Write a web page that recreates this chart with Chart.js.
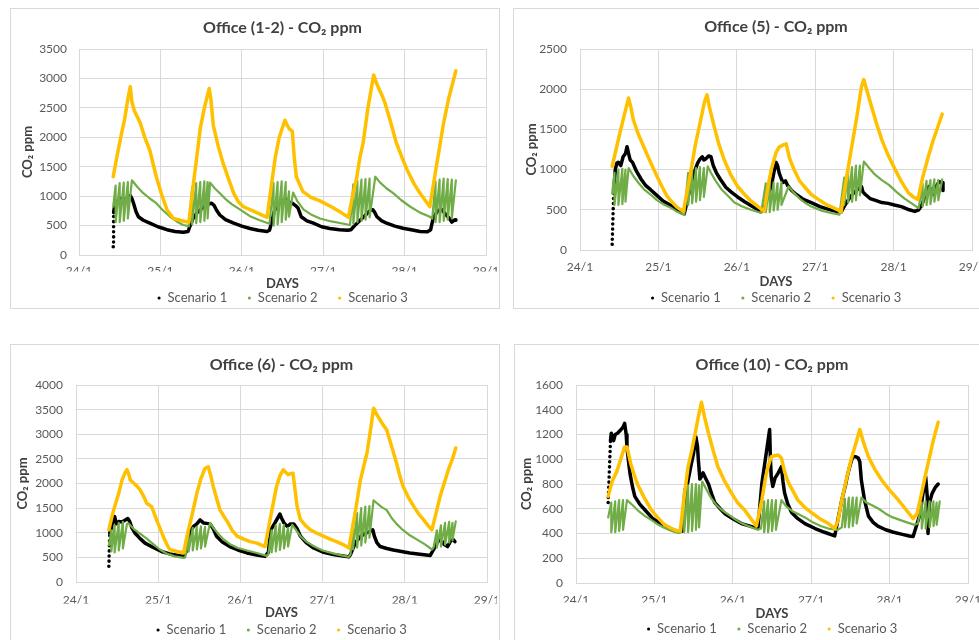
<!DOCTYPE html>
<html><head><meta charset="utf-8">
<script src="https://cdn.jsdelivr.net/npm/chart.js@4.4.1/dist/chart.umd.min.js"></script>
<style>
html,body{margin:0;padding:0;background:#fff;width:979px;height:640px;overflow:hidden;position:relative;}
.box{position:absolute;border:1px solid #d9d9d9;box-sizing:border-box;}
canvas{position:absolute;}
</style></head><body>
<div class="box" style="left:10px;top:8px;width:490px;height:301px"></div>
<div class="box" style="left:513px;top:8px;width:490px;height:301px"></div>
<div class="box" style="left:10px;top:344px;width:490px;height:320px"></div>
<div class="box" style="left:514px;top:344px;width:490px;height:320px"></div>
<canvas id="c1" width="487" height="300" style="left:10px;top:8px"></canvas>
<canvas id="c2" width="487" height="300" style="left:513px;top:8px"></canvas>
<canvas id="c3" width="487" height="300" style="left:10px;top:344px"></canvas>
<canvas id="c4" width="487" height="300" style="left:514px;top:344px"></canvas>
<script>
const dayTicks = ['24/1','25/1','26/1','27/1','28/1','29/1'];
const seriesNames = ['Scenario 1','Scenario 2','Scenario 3'];
const chartTitles = ['Office (1-2) - CO₂ ppm','Office (5) - CO₂ ppm','Office (6) - CO₂ ppm','Office (10) - CO₂ ppm'];
const yAxisTitle = 'CO₂ ppm';
const xAxisTitle = 'DAYS';
const yMaxes = [3500, 2500, 4000, 1600];
const ySteps = [500, 500, 500, 200];

// Office (1-2)
const o12s1 = [[24.42,140],[24.425,720],[24.44,850],[24.48,930],[24.52,960],[24.56,940],[24.60,980],[24.63,1010],[24.65,960],[24.67,880],[24.70,740],[24.73,650],[24.79,590],[24.87,540],[24.97,480],[25.08,430],[25.18,400],[25.28,385],[25.34,400],
[25.36,480],[25.40,620],[25.45,720],[25.50,780],[25.55,830],[25.60,870],[25.63,880],[25.66,840],[25.69,760],[25.73,680],[25.80,600],[25.90,540],[26.00,490],[26.10,450],[26.20,420],[26.31,400],[26.34,420],
[26.36,520],[26.40,750],[26.45,860],[26.50,920],[26.54,950],[26.58,900],[26.62,880],[26.66,840],[26.69,800],[26.73,650],[26.80,580],[26.88,540],[26.98,480],[27.08,450],[27.20,430],[27.30,420],[27.34,430],
[27.40,520],[27.46,600],[27.52,680],[27.58,760],[27.61,770],[27.63,730],[27.66,650],[27.72,580],[27.78,540],[27.88,490],[27.98,455],[28.08,430],[28.19,400],[28.28,395],[28.32,430],
[28.35,620],[28.40,740],[28.45,780],[28.50,700],[28.55,620],[28.58,560],[28.62,600],[28.63,590]];
const o12s2 = [[24.42,820],[24.45,1180],[24.45,560],[24.50,1220],[24.50,560],[24.55,1230],[24.55,580],[24.60,1240],[24.60,620],[24.65,1270],[24.72,1150],[24.79,1050],[24.87,960],[24.95,880],[25.03,760],[25.12,650],[25.20,570],[25.28,510],[25.35,490],
[25.39,1150],[25.39,520],[25.44,1220],[25.44,540],[25.49,1240],[25.49,560],[25.54,1250],[25.54,580],[25.58,1240],[25.58,620],[25.61,1230],[25.67,1130],[25.73,1050],[25.80,950],[25.88,860],[25.98,770],[26.10,660],[26.22,590],[26.34,530],
[26.39,1220],[26.39,500],[26.44,1240],[26.44,520],[26.49,1250],[26.49,560],[26.54,1240],[26.54,600],[26.58,1080],[26.58,650],[26.63,1060],[26.68,920],[26.76,770],[26.85,690],[26.96,620],[27.10,570],[27.22,540],[27.33,510],
[27.37,1200],[27.37,530],[27.42,1260],[27.42,560],[27.47,1280],[27.47,580],[27.52,1290],[27.52,600],[27.57,1300],[27.57,640],[27.64,1330],[27.70,1230],[27.78,1130],[27.86,1050],[27.96,930],[28.07,820],[28.19,720],[28.31,650],[28.34,620],
[28.38,1250],[28.38,560],[28.43,1280],[28.43,560],[28.48,1300],[28.48,580],[28.53,1290],[28.53,600],[28.58,1280],[28.58,620],[28.63,1270]];
const o12s3 = [[24.42,1330],[24.47,1700],[24.52,2050],[24.56,2300],[24.60,2650],[24.63,2860],[24.65,2600],[24.68,2450],[24.75,2250],[24.81,1990],[24.87,1780],[24.91,1550],[24.95,1330],[25.01,1050],[25.08,770],[25.16,620],[25.30,570],[25.35,560],
[25.40,1150],[25.45,1700],[25.49,2150],[25.54,2500],[25.60,2830],[25.62,2650],[25.65,2200],[25.71,1850],[25.77,1560],[25.84,1280],[25.90,1050],[25.96,900],[26.02,820],[26.15,740],[26.31,640],
[26.36,1150],[26.41,1650],[26.46,2000],[26.53,2290],[26.56,2200],[26.58,2150],[26.62,2100],[26.645,1650],[26.67,1330],[26.75,1080],[26.85,980],[26.96,920],[27.10,820],[27.22,720],[27.31,640],
[27.36,1000],[27.41,1300],[27.45,1650],[27.49,1900],[27.55,2500],[27.62,3060],[27.66,2900],[27.72,2720],[27.76,2580],[27.82,2300],[27.90,1900],[27.97,1650],[28.03,1450],[28.12,1200],[28.19,1050],[28.31,820],
[28.36,1250],[28.42,1750],[28.48,2250],[28.54,2650],[28.63,3130]];

// Office (5)
const o5s1 = [[24.41,70],[24.43,720],[24.45,1000],[24.47,1080],[24.49,1090],[24.52,1050],[24.55,1160],[24.58,1200],[24.60,1285],[24.62,1200],[24.64,1120],[24.67,1090],[24.72,980],[24.78,880],[24.84,800],[24.90,750],[24.98,680],[25.06,610],[25.15,560],[25.23,500],[25.30,460],
[25.33,450],[25.40,750],[25.44,920],[25.47,1000],[25.50,1080],[25.53,1130],[25.56,1160],[25.58,1120],[25.60,1130],[25.64,1170],[25.67,1160],[25.70,1050],[25.74,960],[25.79,880],[25.86,780],[25.93,720],[26.01,660],[26.10,600],[26.20,540],[26.31,480],
[26.35,520],[26.40,700],[26.44,790],[26.47,950],[26.50,1090],[26.52,1050],[26.54,960],[26.57,880],[26.59,840],[26.62,860],[26.65,800],[26.70,740],[26.76,690],[26.85,630],[26.95,590],[27.06,540],[27.17,505],[27.29,475],
[27.33,470],[27.38,560],[27.44,650],[27.50,720],[27.55,760],[27.59,790],[27.61,720],[27.64,690],[27.70,640],[27.76,620],[27.85,590],[27.93,580],[28.01,560],[28.10,540],[28.20,500],[28.27,480],[28.32,500],
[28.36,560],[28.41,700],[28.45,790],[28.48,740],[28.51,690],[28.55,800],[28.58,850],[28.62,840],[28.63,740]];
const o5s2 = [[24.41,700],[24.44,960],[24.44,560],[24.49,1000],[24.49,560],[24.54,1010],[24.54,570],[24.58,1000],[24.58,600],[24.62,1020],[24.68,920],[24.75,830],[24.82,750],[24.90,690],[24.98,620],[25.06,570],[25.15,530],[25.23,480],[25.30,450],[25.33,440],
[25.38,960],[25.38,560],[25.43,1000],[25.43,580],[25.48,1020],[25.48,600],[25.53,1030],[25.53,620],[25.58,1020],[25.58,660],[25.63,1040],[25.67,960],[25.73,860],[25.80,760],[25.88,680],[25.97,590],[26.07,540],[26.18,500],[26.31,460],
[26.37,830],[26.37,470],[26.42,840],[26.42,470],[26.47,840],[26.47,490],[26.52,830],[26.52,500],[26.57,840],[26.57,560],[26.66,790],[26.72,720],[26.80,640],[26.88,580],[26.95,540],[27.08,490],[27.20,460],[27.31,440],
[27.37,900],[27.37,560],[27.42,980],[27.42,590],[27.47,1030],[27.47,600],[27.52,1050],[27.52,620],[27.57,1050],[27.57,680],[27.62,1100],[27.68,1030],[27.76,940],[27.85,870],[27.94,810],[28.04,720],[28.14,640],[28.23,580],[28.32,520],
[28.37,820],[28.37,540],[28.42,860],[28.42,560],[28.47,870],[28.47,570],[28.52,880],[28.52,600],[28.57,870],[28.57,620],[28.62,880]];
const o5s3 = [[24.41,1040],[24.46,1250],[24.51,1460],[24.57,1700],[24.62,1890],[24.65,1770],[24.68,1620],[24.74,1450],[24.81,1290],[24.90,1090],[24.98,920],[25.05,780],[25.11,670],[25.18,590],[25.24,530],[25.32,480],
[25.36,700],[25.41,960],[25.47,1300],[25.54,1620],[25.59,1850],[25.62,1930],[25.65,1780],[25.71,1540],[25.77,1320],[25.84,1120],[25.92,940],[26.01,790],[26.10,690],[26.18,610],[26.27,540],[26.35,480],
[26.40,800],[26.44,1000],[26.50,1210],[26.54,1280],[26.60,1310],[26.63,1320],[26.67,1150],[26.73,1000],[26.80,860],[26.86,790],[26.95,690],[27.04,630],[27.15,560],[27.29,500],
[27.33,470],[27.40,900],[27.46,1250],[27.53,1650],[27.59,2030],[27.62,2120],[27.66,1980],[27.72,1780],[27.78,1580],[27.85,1370],[27.93,1180],[28.02,1000],[28.10,850],[28.19,710],[28.25,660],[28.31,630],
[28.37,900],[28.44,1150],[28.50,1350],[28.56,1520],[28.62,1690]];

// Office (6)
const o6s1 = [[24.40,320],[24.41,1000],[24.43,1100],[24.45,1250],[24.47,1330],[24.49,1180],[24.52,1230],[24.56,1220],[24.60,1260],[24.63,1290],[24.65,1240],[24.68,1100],[24.72,990],[24.78,880],[24.84,790],[24.94,700],[25.04,620],[25.14,570],[25.24,540],[25.31,520],
[25.35,650],[25.38,990],[25.43,1130],[25.47,1180],[25.51,1260],[25.55,1200],[25.59,1190],[25.63,1180],[25.67,1080],[25.71,930],[25.78,810],[25.87,720],[25.97,650],[26.08,590],[26.20,550],[26.30,520],
[26.34,600],[26.37,1060],[26.42,1200],[26.48,1380],[26.50,1300],[26.53,1200],[26.57,1130],[26.61,1180],[26.65,1180],[26.69,1080],[26.73,930],[26.80,800],[26.89,690],[27.00,610],[27.13,560],[27.25,530],[27.32,510],
[27.34,560],[27.40,800],[27.46,920],[27.52,990],[27.58,1030],[27.61,1060],[27.63,930],[27.66,800],[27.70,720],[27.78,680],[27.86,650],[27.96,620],[28.06,590],[28.16,570],[28.26,550],[28.31,540],
[28.35,660],[28.40,820],[28.44,860],[28.48,760],[28.52,720],[28.56,840],[28.59,860],[28.61,820]];
const o6s2 = [[24.40,750],[24.43,1050],[24.43,620],[24.47,1150],[24.47,600],[24.52,1200],[24.52,640],[24.57,1220],[24.57,680],[24.62,1180],[24.64,1190],[24.70,1080],[24.78,980],[24.86,880],[24.94,770],[25.02,660],[25.10,580],[25.20,520],[25.31,490],
[25.33,500],[25.37,1000],[25.37,620],[25.42,1100],[25.42,640],[25.47,1120],[25.47,660],[25.52,1130],[25.52,680],[25.57,1120],[25.57,720],[25.63,1200],[25.67,1100],[25.73,980],[25.80,860],[25.88,760],[25.97,690],[26.08,640],[26.20,590],[26.32,530],
[26.34,560],[26.38,1050],[26.38,600],[26.43,1150],[26.43,620],[26.48,1180],[26.48,650],[26.53,1160],[26.53,680],[26.58,1100],[26.58,720],[26.63,1160],[26.68,1050],[26.73,930],[26.81,810],[26.90,720],[27.00,640],[27.13,580],[27.23,540],[27.32,510],
[27.34,560],[27.37,1200],[27.37,660],[27.42,1400],[27.42,700],[27.47,1500],[27.47,740],[27.52,1530],[27.52,800],[27.57,1540],[27.57,900],[27.62,1660],[27.66,1600],[27.72,1520],[27.78,1460],[27.84,1300],[27.90,1180],[27.96,1080],[28.05,960],[28.15,860],[28.25,760],[28.33,660],
[28.35,700],[28.39,1050],[28.39,700],[28.44,1150],[28.44,720],[28.49,1200],[28.49,760],[28.54,1220],[28.54,800],[28.58,1200],[28.58,850],[28.62,1230]];
const o6s3 = [[24.40,1060],[24.44,1350],[24.47,1530],[24.52,1800],[24.56,2070],[24.60,2230],[24.62,2280],[24.64,2200],[24.66,2070],[24.70,2010],[24.74,1950],[24.78,1870],[24.82,1750],[24.86,1600],[24.92,1530],[24.95,1400],[24.98,1260],[25.02,1100],[25.06,930],[25.10,780],[25.14,660],[25.23,620],[25.31,590],
[25.35,930],[25.41,1350],[25.47,1800],[25.52,2100],[25.57,2310],[25.61,2340],[25.64,2150],[25.67,1940],[25.71,1700],[25.75,1470],[25.80,1330],[25.85,1200],[25.90,1050],[25.96,930],[26.04,870],[26.12,820],[26.20,790],[26.30,720],
[26.36,1260],[26.40,1600],[26.44,1940],[26.48,2150],[26.52,2280],[26.55,2230],[26.58,2180],[26.61,2200],[26.64,2210],[26.67,1800],[26.69,1530],[26.73,1270],[26.79,1150],[26.85,1060],[26.93,990],[27.01,930],[27.09,870],[27.17,820],[27.25,760],[27.32,690],
[27.38,1260],[27.42,1650],[27.46,2070],[27.50,2350],[27.54,2620],[27.58,3050],[27.62,3530],[27.66,3400],[27.70,3290],[27.74,3180],[27.78,3090],[27.81,2920],[27.84,2750],[27.90,2410],[27.94,2150],[27.98,1940],[28.04,1730],[28.11,1530],[28.17,1380],[28.23,1260],[28.28,1150],[28.33,1060],
[28.38,1400],[28.43,1740],[28.48,2010],[28.53,2280],[28.58,2500],[28.62,2720]];

// Office (10)
const o10s1 = [[24.41,650],[24.44,1150],[24.45,1210],[24.48,1150],[24.50,1200],[24.53,1210],[24.56,1230],[24.60,1260],[24.62,1290],[24.64,1200],[24.65,1100],[24.67,980],[24.69,880],[24.72,780],[24.75,700],[24.81,640],[24.88,590],[24.98,520],[25.09,480],[25.20,440],[25.30,415],
[25.36,420],[25.40,720],[25.43,830],[25.47,960],[25.50,1050],[25.53,1180],[25.55,1100],[25.56,1000],[25.58,840],[25.60,860],[25.62,890],[25.65,850],[25.69,800],[25.73,720],[25.77,650],[25.84,600],[25.90,560],[26.00,520],[26.11,480],[26.22,460],[26.32,440],
[26.37,800],[26.42,1020],[26.47,1240],[26.48,1000],[26.49,860],[26.51,780],[26.54,850],[26.58,890],[26.62,940],[26.64,820],[26.66,730],[26.70,640],[26.75,570],[26.83,520],[26.92,480],[27.05,440],[27.17,410],[27.30,380],
[27.39,670],[27.44,800],[27.47,890],[27.50,960],[27.53,1020],[27.57,1020],[27.60,1010],[27.62,980],[27.64,830],[27.68,670],[27.73,540],[27.79,490],[27.85,460],[27.95,430],[28.05,410],[28.15,395],[28.25,380],[28.30,375],
[28.39,560],[28.42,700],[28.46,860],[28.48,700],[28.49,400],[28.51,650],[28.54,720],[28.58,770],[28.62,800]];
const o10s2 = [[24.41,530],[24.45,650],[24.45,410],[24.50,660],[24.50,410],[24.55,670],[24.55,420],[24.60,670],[24.60,430],[24.65,670],[24.72,630],[24.80,580],[24.88,540],[24.96,510],[25.05,470],[25.13,445],[25.22,420],[25.30,405],
[25.34,410],[25.38,760],[25.38,410],[25.43,790],[25.43,410],[25.48,800],[25.48,420],[25.53,800],[25.53,430],[25.57,790],[25.57,450],[25.61,820],[25.66,760],[25.72,690],[25.79,630],[25.86,590],[25.95,550],[26.04,510],[26.12,480],[26.22,455],[26.32,430],
[26.36,440],[26.40,660],[26.40,410],[26.45,670],[26.45,410],[26.50,670],[26.50,420],[26.55,670],[26.55,430],[26.62,670],[26.68,620],[26.76,580],[26.84,555],[26.92,530],[27.02,490],[27.12,460],[27.22,440],[27.34,430],
[27.39,450],[27.43,680],[27.43,450],[27.48,690],[27.48,450],[27.53,690],[27.53,460],[27.58,690],[27.58,480],[27.64,690],[27.70,650],[27.77,630],[27.86,600],[27.95,560],[28.04,530],[28.13,510],[28.22,490],[28.32,470],
[28.36,480],[28.41,650],[28.41,440],[28.46,660],[28.46,440],[28.51,660],[28.51,450],[28.56,660],[28.56,460],[28.60,650],[28.60,470],[28.64,660]];
const o10s3 = [[24.41,700],[24.46,820],[24.52,900],[24.57,1000],[24.62,1100],[24.65,1100],[24.70,960],[24.75,860],[24.79,790],[24.87,690],[24.96,590],[25.04,530],[25.13,470],[25.22,440],[25.30,420],[25.33,420],
[25.38,700],[25.43,940],[25.48,1080],[25.52,1210],[25.56,1340],[25.60,1460],[25.64,1340],[25.69,1210],[25.75,1070],[25.81,940],[25.89,830],[25.98,730],[26.06,650],[26.15,590],[26.23,520],[26.30,460],
[26.37,670],[26.42,860],[26.45,940],[26.49,1020],[26.54,1030],[26.58,1035],[26.62,1010],[26.66,900],[26.71,810],[26.77,740],[26.83,670],[26.92,610],[27.00,570],[27.11,520],[27.22,480],[27.30,440],
[27.34,500],[27.39,670],[27.45,840],[27.51,1000],[27.57,1130],[27.62,1240],[27.67,1130],[27.73,1020],[27.81,920],[27.90,830],[28.00,750],[28.10,680],[28.20,600],[28.30,520],
[28.35,560],[28.41,730],[28.46,880],[28.51,1020],[28.56,1160],[28.62,1300]];

const FONT = 'Lato, "Liberation Sans", sans-serif';
const COLORS = ['#000000', '#70AD47', '#FFC000'];
const WIDTHS = [3.5, 2.2, 3.5];

function makeChart(id, g, title, yMax, yStep, series) {
  const ft = 16, fl = 13, fk = 12, fa = 13, p = 20;
  const lhT = ft * 1.2, lhK = fk * 1.2, lhA = fa * 1.2;
  const tPadTop = g.titleY - lhT / 2;
  const tPadBot = g.T - tPadTop - lhT;
  const legTop = g.legY - p - fl / 2;
  const legMax = g.H - legTop;
  const hx = legTop - g.B;
  const xPad = g.xLabY - g.B - lhK / 2;
  const xTitleBot = legTop - lhA / 2 - g.daysY;
  const yPad = g.L - g.yLabR;
  const yTitleTop = g.yTitleX - lhA / 2;
  const datasets = series.map((d, i) => ({
    label: seriesNames[i],
    data: d.map(pt => ({x: pt[0], y: pt[1]})),
    borderColor: COLORS[i],
    backgroundColor: COLORS[i],
    borderWidth: WIDTHS[i],
    pointRadius: 0,
    tension: 0,
    borderJoinStyle: 'round',
    borderCapStyle: 'round',
    order: 3 - i,
    segment: i === 0 ? {
      borderDash: c => c.p0DataIndex === 0 ? [0.1, 5] : undefined
    } : undefined
  }));
  return new Chart(document.getElementById(id), {
    type: 'line',
    data: {datasets},
    options: {
      responsive: false, animation: false, devicePixelRatio: 1,
      layout: {padding: {left: 0, top: 0, right: g.Rd, bottom: 0}},
      plugins: {
        title: {display: true, text: title, color: '#404040', fullSize: false,
          font: {family: FONT, size: ft, weight: 'bold', lineHeight: 1.2},
          padding: {top: tPadTop, bottom: tPadBot}},
        legend: {position: 'bottom', fullSize: false, maxHeight: legMax,
          labels: {usePointStyle: true, boxWidth: 4, boxHeight: 2.2, padding: p, color: '#595959',
            font: {family: FONT, size: fl, lineHeight: 1.2},
            generateLabels: chart => chart.data.datasets.map((ds, i) => ({
              text: ds.label, fillStyle: ds.borderColor, strokeStyle: ds.borderColor,
              lineWidth: 0, pointStyle: 'circle', hidden: false, datasetIndex: i, fontColor: '#595959'}))}},
        tooltip: {enabled: false}
      },
      scales: {
        x: {type: 'linear', min: 24, max: 29,
          ticks: {stepSize: 1, autoSkip: false, maxRotation: 0, padding: xPad, color: '#595959',
            font: {family: FONT, size: fk, lineHeight: 1.2},
            callback: (v, i) => dayTicks[i]},
          grid: {color: '#d9d9d9', drawTicks: false},
          border: {color: '#d9d9d9'},
          title: {display: true, text: xAxisTitle, color: '#404040',
            font: {family: FONT, size: fa, weight: 'bold', lineHeight: 1.2},
            padding: {top: 0, bottom: xTitleBot}},
          afterFit: s => { s.height = hx; s.paddingLeft = 0; s.paddingRight = 0; }
        },
        y: {min: 0, max: yMax,
          ticks: {stepSize: yStep, padding: yPad, color: '#595959',
            font: {family: FONT, size: fk, lineHeight: 1.2},
            callback: v => String(v)},
          grid: {color: '#d9d9d9', drawTicks: false},
          border: {color: '#d9d9d9'},
          title: {display: true, text: yAxisTitle, color: '#404040',
            font: {family: FONT, size: fa, weight: 'bold', lineHeight: 1.2},
            padding: {top: yTitleTop, bottom: 0}},
          afterFit: s => { s.width = g.L; s.paddingTop = 0; s.paddingBottom = 0; }
        }
      }
    }
  });
}

const geoms = [
  {H: 300, L: 69, Rd: 11, T: 41, B: 247, titleY: 20, xLabY: 263, daysY: 276, legY: 290, yLabR: 57, yTitleX: 18},
  {H: 300, L: 67, Rd: 28, T: 41, B: 242, titleY: 19, xLabY: 259, daysY: 274, legY: 290, yLabR: 54, yTitleX: 19},
  {H: 300, L: 66, Rd: 10, T: 41, B: 238, titleY: 21, xLabY: 256, daysY: 269, legY: 286, yLabR: 53, yTitleX: 13},
  {H: 300, L: 62, Rd: 33, T: 41, B: 239, titleY: 21, xLabY: 256, daysY: 270, legY: 285, yLabR: 49, yTitleX: 13}
];
makeChart('c1', geoms[0], chartTitles[0], yMaxes[0], ySteps[0], [o12s1, o12s2, o12s3]);
makeChart('c2', geoms[1], chartTitles[1], yMaxes[1], ySteps[1], [o5s1, o5s2, o5s3]);
makeChart('c3', geoms[2], chartTitles[2], yMaxes[2], ySteps[2], [o6s1, o6s2, o6s3]);
makeChart('c4', geoms[3], chartTitles[3], yMaxes[3], ySteps[3], [o10s1, o10s2, o10s3]);
</script>
</body></html>
